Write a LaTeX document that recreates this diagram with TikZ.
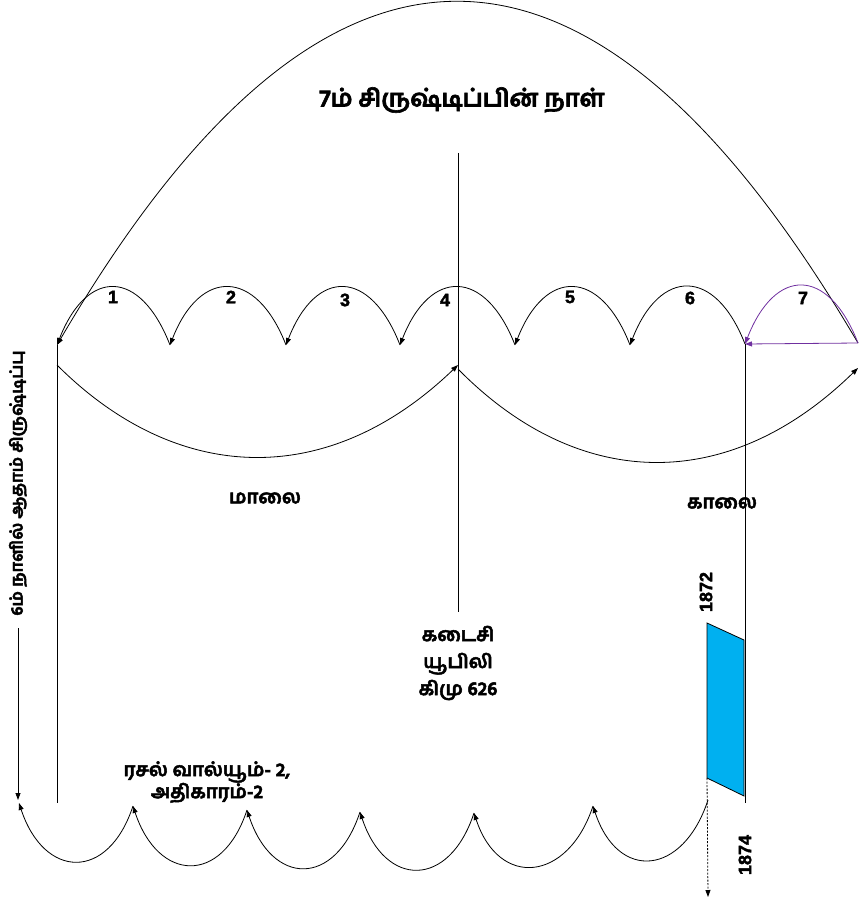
\documentclass[tikz,border=0pt]{standalone}
\usepackage{fontspec}
\setmainfont{Liberation Sans}
\newfontfamily\numf[FakeBold=2]{Liberation Sans}
\newfontfamily\tam[Script=Tamil,FakeBold=2.5]{Hind Madurai}
\usetikzlibrary{arrows.meta}
\definecolor{arcpurple}{HTML}{7030A0}
\definecolor{boxblue}{HTML}{00B0F0}
\begin{document}
\begin{tikzpicture}[x=1pt,y=-1pt,
  ln/.style={line width=0.8pt},
  arr/.style={ln,-{Triangle[length=7pt,width=5pt]}},
  num/.style={font=\numf\bfseries\fontsize{18}{21}\selectfont},
  tlabel/.style={font=\tam\bfseries\fontsize{19}{22}\selectfont},
]
\useasboundingbox (0,0) rectangle (859,901);
% top cusps
\coordinate (t0) at (57,345);
\coordinate (t1) at (170,345);
\coordinate (t2) at (286,345);
\coordinate (t3) at (400,345);
\coordinate (t4) at (515,345);
\coordinate (t5) at (630,345);
\coordinate (t6) at (745,344);
\coordinate (t7) at (858,343);
% big top arc
\draw[arr] (t7) .. controls +(-267,-455) and +(267,-457) .. (t0);
% small arcs
\foreach \a/\b in {1/0,2/1,3/2,4/3,5/4,6/5}{
  \draw[arr] (t\a) .. controls +(-30,-77) and +(30,-77) .. (t\b);
}
\draw[arr,arcpurple] (t7) .. controls +(-30,-77) and +(30,-77) .. (t6);
\draw[arr,arcpurple] (t7) -- (t6);
% numbers
\node[num] (n1) at (113,297) {1};
\node[num] (n2) at (231,297) {2};
\node[num] (n3) at (345,300) {3};
\node[num] (n4) at (445,300) {4};
\node[num] (n5) at (570,297) {5};
\node[num] (n6) at (690,298) {6};
\node[num] (n7) at (803,298) {7};
% title
\node[font=\tam\bfseries\fontsize{24}{29}\selectfont] (title) at (462,100) {7ம் சிருஷ்டிப்பின் நாள்};
% vertical lines
\coordinate (ctop) at (458,153);
\coordinate (cbot) at (458,612);
\draw[ln] (ctop) -- (cbot);
\coordinate (lbot) at (57,803);
\draw[ln] (t0) -- (lbot);
\coordinate (rbot) at (745,803);
\draw[ln] (t6) -- (rbot);
% lower big arcs
\coordinate (l0) at (57,365);
\coordinate (l1) at (458,365);
\coordinate (r0) at (458,369);
\coordinate (r1) at (858,368);
\draw[arr] (l0) .. controls +(120,120) and +(-130,125) .. (l1);
\draw[arr] (r0) .. controls +(120,122) and +(-130,127) .. (r1);
\node[tlabel] (maalai) at (265,498) {மாலை};
\node[tlabel] (kaalai) at (722,503) {காலை};
% centre text
\node[tlabel,align=center] (jub) at (458,663) {கடைசி\\[5pt]யூபிலி\\[5pt]கிமு 626};
% left vertical text
\node[font=\tam\bfseries\fontsize{17}{20}\selectfont,rotate=90] (adam) at (18,483) {6ம் நாளில் ஆதாம் சிருஷ்டிப்பு};
\coordinate (adtop) at (18,628);
\coordinate (adbot) at (18,800);
\draw[arr] (adtop) -- (adbot);
% russell text
\node[tlabel,align=center] (russ) at (207,782) {ரசல் வால்யூம்- 2,\\அதிகாரம்-2};
% bottom arcs
\coordinate (b0) at (19,803);
\coordinate (b1) at (133,806);
\coordinate (b2) at (247,810);
\coordinate (b3) at (360,812);
\coordinate (b4) at (474,813);
\coordinate (b5) at (593,806);
\coordinate (b6) at (708,800);
\foreach \a/\b in {1/0,2/1,3/2,4/3,5/4,6/5}{
  \draw[arr] (b\a) .. controls +(-25,76) and +(25,76) .. (b\b);
}
% parallelogram
\coordinate (p1) at (707,623);
\coordinate (p2) at (744,640);
\coordinate (p3) at (744,796);
\coordinate (p4) at (707,778);
\draw[ln,fill=boxblue] (p1) -- (p2) -- (p3) -- (p4) -- cycle;
\coordinate (dend) at (708,897);
\draw[arr,dash pattern=on 2pt off 1.5pt] (p4) -- (dend);
\node[num,rotate=90] (y1872) at (706,592) {1872};
\node[num,rotate=90] (y1874) at (745,855) {1874};
\end{tikzpicture}
\end{document}
